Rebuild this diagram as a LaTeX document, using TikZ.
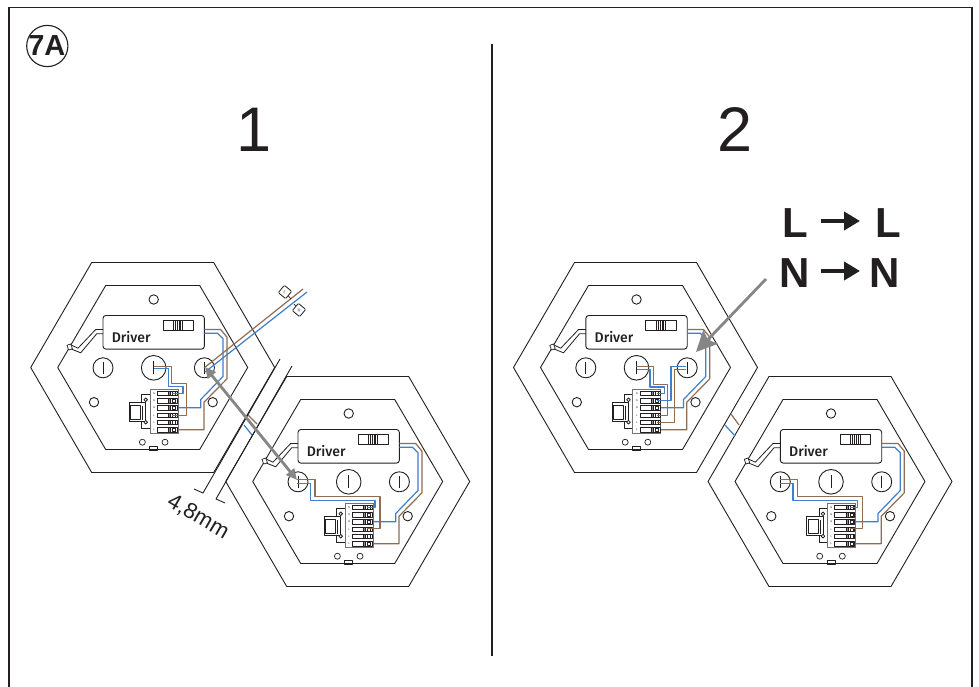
\documentclass[tikz,border=0pt]{standalone}
\usepackage{fontspec}
\setmainfont{Liberation Sans}
\newfontfamily\medf{Fira Sans Medium}
\usetikzlibrary{arrows.meta}
\definecolor{wbrown}{HTML}{8E6E53}
\definecolor{wblue}{HTML}{3F7FCC}
\definecolor{arrowgray}{HTML}{868686}
\definecolor{ink}{HTML}{231F20}
\tikzset{
  ln/.style={draw=ink,line width=0.9pt,line join=round},
  thinln/.style={draw=ink,line width=0.5pt,line join=round},
  brw/.style={draw=wbrown,line width=1.2pt,line join=round},
  blw/.style={draw=wblue,line width=1.2pt,line join=round},
  big/.style={text=ink,font=\fontsize{63}{63}\selectfont,inner sep=0pt},
  letter/.style={text=ink,font=\bfseries\fontsize{42}{42}\selectfont,inner sep=0pt},
  tiny/.style={font=\fontsize{2.6}{3}\selectfont,inner sep=0pt,text=ink},
  drv/.style={text=ink,font=\medf\fontsize{14}{15}\selectfont,inner sep=0pt},
  gray arrow/.style={draw=arrowgray,line width=2.8pt},
  black arrow/.style={draw=ink,line width=4.5pt,-{Triangle[length=16pt,width=18pt]}},
  tag/.style={draw=ink,line width=0.8pt,fill=white,minimum size=9.5pt,rounded corners=1pt,inner sep=0pt,rotate=-40,font=\bfseries\fontsize{4}{4}\selectfont}
}
\newcommand{\hexpanel}[3]{%
\begin{scope}[shift={(#1,#2)}]
  \draw[ln] (-61,-105) -- (61,-105) -- (122,0) -- (61,105) -- (-61,105) -- (-122,0) -- cycle;
  \draw[ln] (-47,-82) -- (47,-82) -- (95,0) -- (47,82) -- (-47,82) -- (-95,0) -- cycle;
  \draw[ln] (1,-68) circle (4.7);
  \draw[ln] (-58.7,34.7) circle (4.7);
  \draw[ln] (60,34.7) circle (4.7);
  \draw[ln,line width=0.7pt] (-10.3,74.7) circle (3);
  \draw[ln,line width=0.7pt] (12.3,74.7) circle (3);
  \draw[ln,line width=0.7pt] (-3,78.5) rectangle (5,83);
  % sockets
  \draw[ln] (-49.7,0.3) circle (10); \draw[ln] (-49.7,-5.7) -- (-49.7,6.3);
  \draw[ln] (1,0.3) circle (12.3);   \draw[ln] (1,-6.2) -- (1,6.8);
  \draw[ln] (51.7,0.3) circle (10);  \draw[ln] (51.7,-5.7) -- (51.7,6.3);
  % driver
  \node[draw=ink,line width=0.9pt,rounded corners=3pt,minimum width=101.4pt,minimum height=33.7pt,inner sep=0pt] (#3drv) at (1,-35.2) {};
  \node[drv,anchor=base west] (#3txt) at (-41,-25) {Driver};
  \draw[ln] (10.3,-47.3) rectangle (40.7,-37.3);
  \draw[ln,fill=white] (20.5,-47.3) rectangle (30,-37.3);
  \foreach \xx in {22.5,24.5,26.5,28} \draw[thinln] (\xx,-47.3) -- (\xx,-37.3);
  % mains lead of the driver
  \draw[ln,line width=0.8pt] (-49.7,-38) -- (-57,-38) -- (-74.7,-19.3) -- (-82,-22.7);
  \draw[ln,line width=0.8pt] (-49.7,-33.7) -- (-56,-33.7) -- (-72,-14.7) -- (-82,-18.7);
  \draw[ln,line width=0.7pt,fill=white,rotate around={20:(-83,-20.5)}] (-85,-23) rectangle (-81,-18);
  % wires driver - connector
  \draw[blw] (51.7,-34.3) -- (64.7,-34.3) -- (70.3,-28.7) -- (70.3,9) -- (48,32) -- (48,40.3) -- (19.7,40.3);
  \draw[brw] (51.7,-38) -- (68,-38) -- (74.3,-30.3) -- (74.3,11.3) -- (51.3,34.7) -- (51.3,62.3) -- (19.7,62.3);
  % connector block
  \draw[thinln,line width=0.7pt,fill=white] (-11,27) rectangle (-2.7,61);
  \draw[thinln,line width=0.7pt,fill=white] (-23.5,34.7) rectangle (-7,53.5);
  \draw[thinln] (-22,38) rectangle (-12,52);
  \draw[thinln] (-10,38) -- (-10,52);
  \draw[thinln,line width=0.8pt,fill=white] (-7,32.3) circle (1.8);
  \draw[thinln,line width=0.8pt,fill=white] (-7,54.7) circle (1.8);
  \draw[draw=black!55,line width=1pt] (-2.7,22.3) rectangle (25.3,65.7);
  \foreach \yy/\lt in {26/N,33.3/N,40.3/N,48/L,55/L,62.3/L}{
    \draw[thinln,line width=0.6pt,fill=white] (4.7,\yy-2.2) rectangle (24.7,\yy+2.2);
    \draw[thinln,fill=black!45] (16,\yy-2.2) rectangle (18,\yy+2.2);
    \draw[thinln] (20,\yy-1.8) rectangle (23,\yy+1.8);
    \node[tiny] at (1.3,\yy) {\lt};
  }
\end{scope}}
\begin{document}
\begin{tikzpicture}[x=1pt,y=-1pt]
\useasboundingbox (0,0) rectangle (979,687);
\fill[white] (0,0) rectangle (979,687);
% frame, open at the foot
\draw[draw=ink,line width=1.8pt] (9,687) -- (9,7.5) -- (972,7.5) -- (972,687);
\draw[draw=ink,line width=1.2pt] (492,44) -- (492,656);
% step badge
\node[circle,draw=ink,line width=1.1pt,minimum size=40pt,inner sep=0pt,text=ink,font=\bfseries\fontsize{29}{29}\selectfont] (badge) at (47.3,46) {\kern-1pt 7A};
\node[big] (one) at (254,130) {1};
\node[big] (two) at (735,130) {2};
% L to L, N to N
\node[letter] (l1) at (795,223) {L};
\node[letter] (l2) at (888,223) {L};
\node[letter] (n1) at (795,273) {N};
\node[letter] (n2) at (885,273) {N};
\coordinate (la) at (821,221); \coordinate (lb) at (860,221);
\coordinate (na) at (821,271); \coordinate (nb) at (860,271);
\draw[black arrow] (la) -- (lb);
\draw[black arrow] (na) -- (nb);
% panels
\hexpanel{152.7}{367.5}{a}
\hexpanel{347.7}{481.5}{b}
\hexpanel{635.5}{367.5}{c}
\hexpanel{830}{481.5}{d}
% panel a wiring
\begin{scope}[shift={(152.7,367.5)}]
  \draw[brw] (1.3,-1) -- (19,-1) -- (19,16.3) -- (34,16.3) -- (34,48) -- (19.7,48);
  \draw[blw] (1.3,1.3) -- (15.7,1.3) -- (15.7,18.7) -- (30.3,18.7) -- (30.3,25.7) -- (19.7,25.7);
\end{scope}
% mains
\coordinate (bA) at (204,368); \coordinate (bB) at (303,289);
\coordinate (uA) at (205,372); \coordinate (uB) at (307,292);
\draw[brw] (bA) -- (bB);
\draw[blw] (uA) -- (uB);
\coordinate (tagLw) at (291,299); \coordinate (tagNw) at (294,304);
\node[tag,text=wbrown] (tagL) at (285,292) {L};
\node[tag,text=wblue] (tagN) at (299,310) {N};
\draw[ln,line width=0.7pt] (tagL) -- (tagLw);
\draw[ln,line width=0.7pt] (tagN) -- (tagNw);
% panel b wiring
\begin{scope}[shift={(347.7,481.5)}]
  \draw[brw] (-50.3,-1.7) -- (-32.7,-1.7) -- (-32.7,14.7) -- (32.3,14.7) -- (32.3,46.7) -- (19.7,46.7);
  \draw[blw] (-50.3,2.3) -- (-37,2.3) -- (-37,19) -- (27.3,19) -- (27.3,25.7) -- (19.7,25.7);
\end{scope}
% link a-b
\draw[brw] (248,415) -- (257,424);
\draw[blw] (244,425) -- (252,435);
% gap dimension
\draw[ln] (280,359) -- (203,493) -- (194,489);
\draw[ln] (292,366) -- (216,499) -- (225,503);
\node[text=ink,font=\fontsize{22}{22}\selectfont,rotate=-30,inner sep=0pt] (gap) at (198,517) {4,8mm};
% panel c wiring
\begin{scope}[shift={(635.5,367.5)}]
  \draw[brw] (0,-0.7) -- (18,-0.7) -- (18,17.3) -- (32,17.3) -- (32,48) -- (21,48);
  \draw[blw] (1,1.7) -- (14.5,1.7) -- (14.5,19.5) -- (29,19.5) -- (29,26) -- (21,26);
  \draw[blw] (50,-0.7) -- (35.5,-0.7) -- (35.5,33.3) -- (21,33.3);
  \draw[brw] (50,1.7) -- (39,1.7) -- (39,55) -- (21,55);
\end{scope}
% panel d wiring
\begin{scope}[shift={(830,481.5)}]
  \draw[brw] (-50.3,-1.7) -- (-32.7,-1.7) -- (-32.7,14.7) -- (32.3,14.7) -- (32.3,46.7) -- (19.7,46.7);
  \draw[blw] (-50.3,2.3) -- (-37,2.3) -- (-37,19) -- (27.3,19) -- (27.3,25.7) -- (19.7,25.7);
\end{scope}
% link c-d
\draw[brw] (731,414) -- (739,425);
\draw[blw] (725,425) -- (735,436);
% grey pointers
\coordinate (pA) at (205,367); \coordinate (pB) at (297,480);
\draw[gray arrow,{Triangle[length=11pt,width=10pt]}-{Triangle[length=11pt,width=10pt]}] (pA) -- (pB);
\coordinate (qA) at (766,279); \coordinate (qB) at (696,352);
\draw[gray arrow,-{Stealth[length=21pt,width=20pt,inset=4pt]}] (qA) -- (qB);
\end{tikzpicture}
\end{document}
